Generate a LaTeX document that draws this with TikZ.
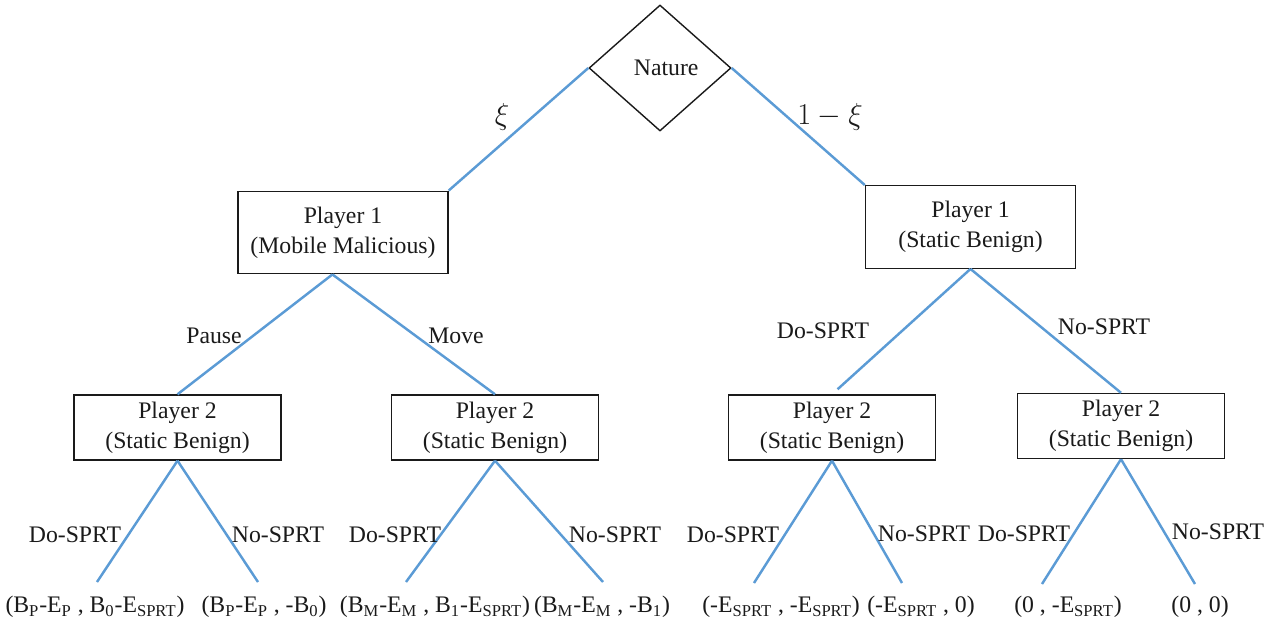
\documentclass[tikz,border=0pt]{standalone}
\usepackage{fontspec}
\setmainfont{Liberation Serif}
\usetikzlibrary{shapes.geometric,calc}
\definecolor{ink}{HTML}{1A1A1A}
\definecolor{edgeblue}{HTML}{5B9BD5}
\tikzset{
  every node/.style={font=\rmfamily\fontsize{13.5}{17}\selectfont, text=ink},
  player/.style={draw=ink, line width=0.8pt, align=center, inner sep=2pt},
  p1box/.style={player, minimum width=4.2cm, minimum height=1.65cm},
  p2box/.style={player, minimum width=4.14cm, minimum height=1.3cm},
  chance/.style={diamond, draw=ink, line width=0.8pt, inner sep=0pt, minimum width=2.84cm, minimum height=2.52cm},
  branch/.style={draw=edgeblue, line width=1.4pt},
  lbl/.style={inner sep=1pt},
  payoff/.style={inner sep=1pt},
  prob/.style={font=\fontsize{18}{20}\selectfont},
}

\begin{document}
\begin{tikzpicture}[x=0.02cm, y=-0.02cm]
  \useasboundingbox (0,0) rectangle (1286,626);

  % decision nodes
  \node[chance] (nature) at (660,68) {\hspace{0.25cm}Nature};
  \node[p1box] (p1l) at (343,232.5) {Player 1\\(Mobile Malicious)};
  \node[p1box] (p1r) at (970.5,227) {Player 1\\(Static Benign)};
  \node[p2box] (p2a) at (177.5,427.5) {Player 2\\(Static Benign)};
  \node[p2box] (p2b) at (495,427.5) {Player 2\\(Static Benign)};
  \node[p2box] (p2c) at (832,427.5) {Player 2\\(Static Benign)};
  \node[p2box] (p2d) at (1121,426) {Player 2\\(Static Benign)};

  % leaf ends and payoffs
  \coordinate (t1) at (97,582);
  \coordinate (t2) at (258,582);
  \coordinate (t3) at (406,582);
  \coordinate (t4) at (603,582);
  \coordinate (t5) at (754,583);
  \coordinate (t6) at (902,583);
  \coordinate (t7) at (1042,584);
  \coordinate (t8) at (1195,584);
  \node[payoff] (o1) at (95,607) {(B\textsubscript{P}-E\textsubscript{P} , B\textsubscript{0}-E\textsubscript{SPRT})};
  \node[payoff] (o2) at (264,607) {(B\textsubscript{P}-E\textsubscript{P} , -B\textsubscript{0})};
  \node[payoff] (o3) at (435,607) {(B\textsubscript{M}-E\textsubscript{M} , B\textsubscript{1}-E\textsubscript{SPRT})};
  \node[payoff] (o4) at (602,607) {(B\textsubscript{M}-E\textsubscript{M} , -B\textsubscript{1})};
  \node[payoff] (o5) at (781,607) {(-E\textsubscript{SPRT} , -E\textsubscript{SPRT})};
  \node[payoff] (o6) at (921,607) {(-E\textsubscript{SPRT} , 0)};
  \node[payoff] (o7) at (1068,607) {(0 , -E\textsubscript{SPRT})};
  \node[payoff] (o8) at (1200,607) {(0 , 0)};

  % branches
  \draw[branch] (nature.west) -- (p1l.north east);
  \draw[branch] (nature.east) -- (p1r.north west);
  \draw[branch] ($(p1l.south west)!0.45!(p1l.south east)$) -- (p2a.north);
  \draw[branch] ($(p1l.south west)!0.45!(p1l.south east)$) -- (p2b.north);
  \draw[branch, shorten >=0.15cm] (p1r.south) -- (p2c.north);
  \draw[branch] (p1r.south) -- (p2d.north);
  \draw[branch] (p2a.south) -- (t1);
  \draw[branch] (p2a.south) -- (t2);
  \draw[branch] (p2b.south) -- (t3);
  \draw[branch] (p2b.south) -- (t4);
  \draw[branch] (p2c.south) -- (t5);
  \draw[branch] (p2c.south) -- (t6);
  \draw[branch] (p2d.south) -- (t7);
  \draw[branch] (p2d.south) -- (t8);

  % branch labels
  \node[prob] (xi) at (502,117) {$\xi$};
  \node[prob] (onexi) at (830,117) {$1-\xi$};
  \node[lbl] (pause) at (214,336) {Pause};
  \node[lbl] (move) at (456,336) {Move};
  \node[lbl] (dor) at (823,331) {Do-SPRT};
  \node[lbl] (nor) at (1104,327) {No-SPRT};
  \node[lbl] (doa) at (75,535) {Do-SPRT};
  \node[lbl] (noa) at (278,535) {No-SPRT};
  \node[lbl] (dob) at (395,535) {Do-SPRT};
  \node[lbl] (nob) at (615,535) {No-SPRT};
  \node[lbl] (doc) at (733,535) {Do-SPRT};
  \node[lbl] (noc) at (924,534) {No-SPRT};
  \node[lbl] (dod) at (1024,534) {Do-SPRT};
  \node[lbl] (nod) at (1218,532) {No-SPRT};
\end{tikzpicture}
\end{document}
